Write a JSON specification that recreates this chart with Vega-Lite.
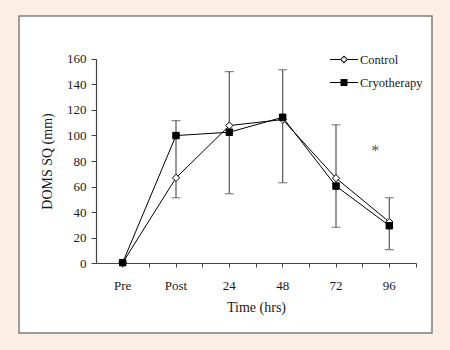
{
  "$schema": "https://vega.github.io/schema/vega-lite/v6.json",
  "width": 413,
  "height": 317,
  "autosize": "none",
  "padding": {"left": 19, "top": 16, "right": 18, "bottom": 17},
  "background": "#fdeee4",
  "config": {
    "view": {"fill": "white", "stroke": "#7d7d7d", "strokeWidth": 1.5},
    "axis": {
      "grid": false,
      "domainColor": "#444",
      "tickColor": "#444",
      "labelColor": "#1a1a1a",
      "titleColor": "#1a1a1a",
      "labelFont": "Liberation Serif",
      "titleFont": "Liberation Serif",
      "labelFontSize": 13,
      "titleFontSize": 14,
      "titleFontWeight": "normal"
    },
    "legend": {"labelFont": "Liberation Serif", "labelFontSize": 12, "labelColor": "#1a1a1a"}
  },
  "datasets": {
    "main": [
      {"time": "Pre", "group": "Control", "value": 0.5},
      {"time": "Post", "group": "Control", "value": 66.8},
      {"time": "24", "group": "Control", "value": 107.7},
      {"time": "48", "group": "Control", "value": 112.4},
      {"time": "72", "group": "Control", "value": 66.6},
      {"time": "96", "group": "Control", "value": 32.3},
      {"time": "Pre", "group": "Cryotherapy", "value": 0.5},
      {"time": "Post", "group": "Cryotherapy", "value": 99.9},
      {"time": "24", "group": "Cryotherapy", "value": 102.5},
      {"time": "48", "group": "Cryotherapy", "value": 114.2},
      {"time": "72", "group": "Cryotherapy", "value": 60.4},
      {"time": "96", "group": "Cryotherapy", "value": 29.4}
    ],
    "errs": [
      {"time": "Post", "lo": 51.3, "hi": 111.6},
      {"time": "24", "lo": 54.4, "hi": 149.9},
      {"time": "48", "lo": 63, "hi": 151.4},
      {"time": "72", "lo": 28.1, "hi": 108.3},
      {"time": "96", "lo": 10.7, "hi": 51.3}
    ],
    "notes": [
      {"time": "96", "y": 84, "label": "*"}
    ]
  },
  "resolve": {"scale": {"x": "shared", "y": "shared"}, "axis": {"x": "independent"}},
  "layer": [
    {
      "data": {"name": "errs"},
      "mark": {"type": "rule", "color": "#555", "strokeWidth": 1.2},
      "encoding": {
        "x": {"field": "time", "type": "nominal", "sort": ["Pre", "Post", "24", "48", "72", "96"],
          "scale": {"domain": ["Pre", "Post", "24", "48", "72", "96"], "range": [77, 397], "paddingInner": 0, "paddingOuter": 0},
          "axis": {"orient": "bottom", "offset": -70, "bandPosition": 0.5, "labelAngle": 0, "tickSize": 4, "labelPadding": 12, "title": "Time (hrs)", "titlePadding": 8, "domainWidth": 1.2}},
        "y": {"field": "lo", "type": "quantitative", "title": "DOMS SQ (mm)",
          "scale": {"domain": [0, 160], "range": [247.3, 42.7], "nice": false},
          "axis": {"orient": "left", "offset": -77, "values": [0, 20, 40, 60, 80, 100, 120, 140, 160], "tickSize": 5, "labelPadding": 5, "titlePadding": 12, "domainWidth": 1.2}},
        "y2": {"field": "hi"}
      }
    },
    {
      "data": {"name": "errs"},
      "mark": {"type": "tick", "color": "#555", "size": 9, "thickness": 1.2},
      "encoding": {
        "x": {"field": "time", "type": "nominal", "sort": ["Pre", "Post", "24", "48", "72", "96"],
          "axis": {"orient": "bottom", "offset": -70, "bandPosition": 1, "labels": false, "domain": false, "tickSize": 4, "title": null}},
        "y": {"field": "lo", "type": "quantitative", "title": "DOMS SQ (mm)",
          "axis": {"orient": "left", "offset": -77, "values": [0, 20, 40, 60, 80, 100, 120, 140, 160], "tickSize": 5, "labelPadding": 5, "titlePadding": 12, "domainWidth": 1.2}}
      }
    },
    {
      "data": {"name": "errs"},
      "mark": {"type": "tick", "color": "#555", "size": 9, "thickness": 1.2},
      "encoding": {
        "x": {"field": "time", "type": "nominal", "sort": ["Pre", "Post", "24", "48", "72", "96"], "axis": null},
        "y": {"field": "hi", "type": "quantitative", "title": "DOMS SQ (mm)",
          "axis": {"orient": "left", "offset": -77, "values": [0, 20, 40, 60, 80, 100, 120, 140, 160], "tickSize": 5, "labelPadding": 5, "titlePadding": 12, "domainWidth": 1.2}}
      }
    },
    {
      "data": {"name": "main"},
      "mark": {"type": "line", "color": "black", "strokeWidth": 1},
      "encoding": {
        "x": {"field": "time", "type": "nominal", "sort": ["Pre", "Post", "24", "48", "72", "96"], "axis": null},
        "y": {"field": "value", "type": "quantitative", "title": "DOMS SQ (mm)",
          "axis": {"orient": "left", "offset": -77, "values": [0, 20, 40, 60, 80, 100, 120, 140, 160], "tickSize": 5, "labelPadding": 5, "titlePadding": 12, "domainWidth": 1.2}},
        "detail": {"field": "group"}
      }
    },
    {
      "data": {"name": "main"},
      "transform": [{"filter": "datum.group === 'Control'"}],
      "mark": {"type": "point", "shape": "diamond", "filled": true, "fill": "white", "stroke": "black", "strokeWidth": 1, "opacity": 1, "size": 52},
      "encoding": {
        "x": {"field": "time", "type": "nominal", "sort": ["Pre", "Post", "24", "48", "72", "96"], "axis": null},
        "y": {"field": "value", "type": "quantitative", "title": "DOMS SQ (mm)",
          "axis": {"orient": "left", "offset": -77, "values": [0, 20, 40, 60, 80, 100, 120, 140, 160], "tickSize": 5, "labelPadding": 5, "titlePadding": 12, "domainWidth": 1.2}}
      }
    },
    {
      "data": {"name": "main"},
      "transform": [{"filter": "datum.group === 'Cryotherapy'"}],
      "mark": {"type": "point", "shape": "square", "filled": true, "fill": "black", "stroke": "black", "strokeWidth": 1, "opacity": 1, "size": 42},
      "encoding": {
        "x": {"field": "time", "type": "nominal", "sort": ["Pre", "Post", "24", "48", "72", "96"], "axis": null},
        "y": {"field": "value", "type": "quantitative", "title": "DOMS SQ (mm)",
          "axis": {"orient": "left", "offset": -77, "values": [0, 20, 40, 60, 80, 100, 120, 140, 160], "tickSize": 5, "labelPadding": 5, "titlePadding": 12, "domainWidth": 1.2}}
      }
    },
    {
      "data": {"name": "main"},
      "mark": {"type": "point", "filled": true, "opacity": 0, "size": 484},
      "encoding": {
        "x": {"field": "time", "type": "nominal", "sort": ["Pre", "Post", "24", "48", "72", "96"], "axis": null},
        "y": {"field": "value", "type": "quantitative", "title": "DOMS SQ (mm)",
          "axis": {"orient": "left", "offset": -77, "values": [0, 20, 40, 60, 80, 100, 120, 140, 160], "tickSize": 5, "labelPadding": 5, "titlePadding": 12, "domainWidth": 1.2}},
        "shape": {"field": "group", "type": "nominal",
          "scale": {"domain": ["Control", "Cryotherapy"], "range": [
            "M-1.27,-0.045H-0.36V0.045H-1.27ZM0.36,-0.045H1.27V0.045H0.36ZM0,-0.364L0.364,0L0,0.364L-0.364,0ZM0,-0.235L-0.235,0L0,0.235L0.235,0Z",
            "M-1.27,-0.045H-0.318V0.045H-1.27ZM0.318,-0.045H1.27V0.045H0.318ZM-0.318,-0.318H0.318V0.318H-0.318Z"]},
          "legend": {"title": null, "orient": "none", "legendX": 314, "legendY": 32.5, "padding": 0, "symbolSize": 484, "labelOffset": 5, "rowPadding": 5, "symbolStrokeWidth": 0, "symbolOpacity": 1, "labelFont": "Liberation Serif", "labelFontSize": 12.5, "labelColor": "#1a1a1a"}},
        "fill": {"field": "group", "type": "nominal", "scale": {"domain": ["Control", "Cryotherapy"], "range": ["black", "black"]},
          "legend": {"title": null, "orient": "none", "legendX": 314, "legendY": 32.5, "padding": 0, "symbolSize": 484, "labelOffset": 5, "rowPadding": 5, "symbolStrokeWidth": 0, "symbolOpacity": 1, "labelFont": "Liberation Serif", "labelFontSize": 12.5, "labelColor": "#1a1a1a"}}
      }
    },
    {
      "data": {"name": "notes"},
      "mark": {"type": "text", "font": "Liberation Serif", "fontSize": 16, "color": "#555", "dx": -14, "baseline": "alphabetic"},
      "encoding": {
        "x": {"field": "time", "type": "nominal", "sort": ["Pre", "Post", "24", "48", "72", "96"], "axis": null},
        "y": {"field": "y", "type": "quantitative", "title": "DOMS SQ (mm)",
          "axis": {"orient": "left", "offset": -77, "values": [0, 20, 40, 60, 80, 100, 120, 140, 160], "tickSize": 5, "labelPadding": 5, "titlePadding": 12, "domainWidth": 1.2}},
        "text": {"field": "label"}
      }
    }
  ]
}
